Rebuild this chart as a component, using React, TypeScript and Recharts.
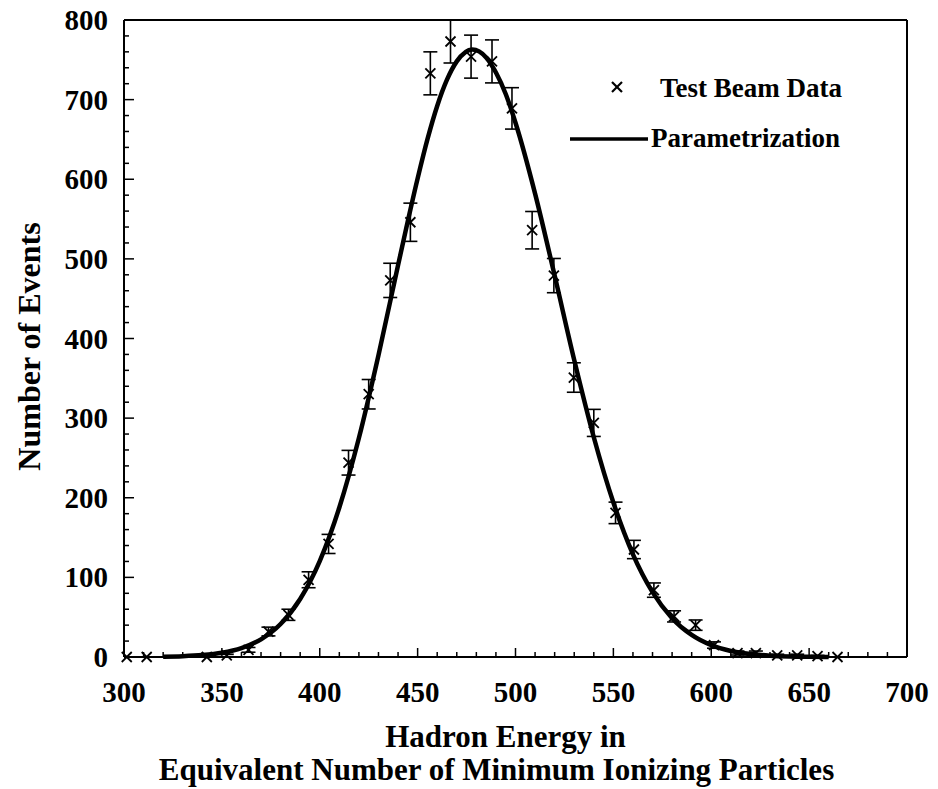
import React from 'react'
import {
  ComposedChart,
  Line,
  Scatter,
  ErrorBar,
  XAxis,
  YAxis,
  ReferenceLine,
  Label,
} from 'recharts'

// measured bins (x = hadron energy in MIPs, y = events, err = stat. error)
const beamX = [
  301.4, 311.6, 342.3, 352.5, 363.6, 373.8, 384.0, 394.3, 404.5, 414.7, 425.0, 436.0,
  446.3, 456.5, 466.8, 477.3, 488.0, 498.2, 508.5, 519.6, 529.8, 540.0, 551.1, 560.5,
  570.7, 581.0, 592.0, 601.4, 613.4, 622.8, 633.7, 643.9, 654.3, 664.5,
]
const beamY = [
  0, 0, 0, 2, 9, 32, 53, 97, 142, 244, 330, 473,
  546, 733, 773, 754, 748, 689, 536, 479, 351, 294, 181, 135,
  84, 51, 40, 15, 5, 5, 2, 2, 1, 0,
]
const beamErr = [
  0, 0, 0, 1.5, 3, 5.5, 7, 10, 12, 15.5, 18.5, 21.5,
  24, 27, 27, 27, 27, 26, 23.5, 21.5, 18.5, 17, 13.5, 11.5,
  9, 7, 6.5, 4, 2.5, 2.5, 1.5, 1.5, 1, 0,
]

// parametrization curve
const fitX = [
  320, 330, 340, 350, 360, 370, 380, 390, 400, 410, 420, 430, 440, 450, 455, 460, 465,
  470, 478, 485, 490, 495, 500, 510, 520, 530, 540, 550, 560, 570, 580, 590, 600, 610,
  620, 630, 640, 650, 660,
]
const fitY = [
  0.4, 1.0, 2.4, 5.3, 11.2, 22.2, 41.4, 72.9, 120.5, 187.7, 275, 379, 492, 601, 650, 692, 725,
  748, 763, 753, 734, 707, 671, 582, 479, 373, 276, 194, 129, 81.5, 48.8, 27.7, 14.9, 7.6,
  3.7, 1.7, 0.7, 0.3, 0.1,
]

const xMajor = [300, 350, 400, 450, 500, 550, 600, 650, 700]
const xTicks = [
  300, 310, 320, 330, 340, 350, 360, 370, 380, 390, 400, 410, 420, 430, 440, 450, 460,
  470, 480, 490, 500, 510, 520, 530, 540, 550, 560, 570, 580, 590, 600, 610, 620, 630,
  640, 650, 660, 670, 680, 690, 700,
]
const yMajor = [0, 100, 200, 300, 400, 500, 600, 700, 800]
const yTicks = [
  0, 20, 40, 60, 80, 100, 120, 140, 160, 180, 200, 220, 240, 260, 280, 300, 320, 340,
  360, 380, 400, 420, 440, 460, 480, 500, 520, 540, 560, 580, 600, 620, 640, 660, 680,
  700, 720, 740, 760, 780, 800,
]

const beam = beamX.map((x, i) => ({ x, y: beamY[i], err: beamErr[i] }))
const fit = fitX.map((x, i) => ({ x, y: fitY[i] }))

const FONT = '"Liberation Serif", serif'

const XTick = (props: any) => {
  const { x, y, payload } = props
  const major = xMajor.includes(payload.value)
  return (
    <g>
      <line x1={x} x2={x} y1={y} y2={y - (major ? 9 : 5)} stroke="#000" strokeWidth={1.5} />
      {major && (
        <text x={x} y={y + 45} textAnchor="middle" fontFamily={FONT} fontWeight="bold" fontSize={29} fill="#000">
          {payload.value}
        </text>
      )}
    </g>
  )
}

const YTick = (props: any) => {
  const { x, y, payload } = props
  const major = yMajor.includes(payload.value)
  return (
    <g>
      <line x1={x} x2={x + (major ? 10 : 5)} y1={y} y2={y} stroke="#000" strokeWidth={1.5} />
      {major && (
        <text x={x - 16} y={y + 10} textAnchor="end" fontFamily={FONT} fontWeight="bold" fontSize={29} fill="#000">
          {payload.value}
        </text>
      )}
    </g>
  )
}

const Cross = (props: any) => {
  const { cx, cy } = props
  const s = 5
  return (
    <g stroke="#000" strokeWidth={1.8}>
      <line x1={cx - s} y1={cy - s} x2={cx + s} y2={cy + s} />
      <line x1={cx - s} y1={cy + s} x2={cx + s} y2={cy - s} />
    </g>
  )
}

const YTitle = ({ viewBox }: any) => {
  const cx = viewBox.x + 29
  const cy = viewBox.y + viewBox.height / 2 + 8
  return (
    <text x={cx} y={cy} transform={`rotate(-90 ${cx} ${cy})`} textAnchor="middle" dominantBaseline="central"
      fontFamily={FONT} fontWeight="bold" fontSize={32} fill="#000">
      Number of Events
    </text>
  )
}

const XTitle = ({ viewBox }: any) => {
  const cx = viewBox.x + viewBox.width / 2
  return (
    <text textAnchor="middle" fontFamily={FONT} fontWeight="bold" fontSize={31} fill="#000">
      <tspan x={cx - 10} y={viewBox.y + 90}>Hadron Energy in</tspan>
      <tspan x={cx - 19} y={viewBox.y + 123}>Equivalent Number of Minimum Ionizing Particles</tspan>
    </text>
  )
}

const LegendOverlay = () => (
  <svg width={938} height={789} style={{ position: 'absolute', left: 0, top: 0, pointerEvents: 'none' }}>
    <g stroke="#000" strokeWidth={2.2}>
      <line x1={612} y1={82} x2={622} y2={92} />
      <line x1={612} y1={92} x2={622} y2={82} />
    </g>
    <line x1={570} y1={139} x2={648} y2={139} stroke="#000" strokeWidth={3.5} />
    <g fontFamily={FONT} fontWeight="bold" fontSize={27} fill="#000">
      <text x={660} y={97}>Test Beam Data</text>
      <text x={651} y={147}>Parametrization</text>
    </g>
  </svg>
)

export default function App() {
  return (
    <div style={{ position: 'absolute', left: 0, top: 0, width: 938, height: 789, background: '#fff' }}>
      <ComposedChart width={938} height={789} margin={{ top: 20, right: 31, left: 0, bottom: 0 }}>
        <XAxis
          dataKey="x"
          type="number"
          domain={[300, 700]}
          ticks={xTicks}
          interval={0}
          height={132}
          tickSize={0}
          tickMargin={0}
          tickLine={false}
          tick={<XTick />}
          axisLine={{ stroke: '#000', strokeWidth: 2 }}
        >
          <Label content={<XTitle />} />
        </XAxis>
        <YAxis
          dataKey="y"
          type="number"
          domain={[0, 800]}
          ticks={yTicks}
          interval={0}
          width={124}
          tickSize={0}
          tickMargin={0}
          tickLine={false}
          tick={<YTick />}
          axisLine={{ stroke: '#000', strokeWidth: 2 }}
        >
          <Label content={<YTitle />} />
        </YAxis>
        <ReferenceLine y={800} stroke="#000" strokeWidth={2} />
        <ReferenceLine x={700} stroke="#000" strokeWidth={2} />
        <Line
          data={fit}
          dataKey="y"
          name="Parametrization"
          type="monotone"
          stroke="#000"
          strokeWidth={4.5}
          dot={false}
          activeDot={false}
          isAnimationActive={false}
        />
        <Scatter data={beam} dataKey="y" name="Test Beam Data" shape={<Cross />} isAnimationActive={false}>
          <ErrorBar dataKey="err" direction="y" width={7} stroke="#000" strokeWidth={1.6} isAnimationActive={false} />
        </Scatter>
      </ComposedChart>
      <LegendOverlay />
    </div>
  )
}
